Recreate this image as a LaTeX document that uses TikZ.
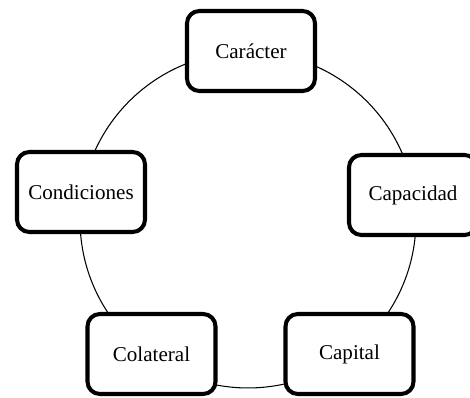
\documentclass[tikz,border=0pt]{standalone}
\usepackage{fontspec}
\setmainfont{Liberation Serif}
\begin{document}
\begin{tikzpicture}[x=0.02cm,y=-0.02cm,
  caja/.style={draw,fill=white,line width=2.3pt,rounded corners=7pt,
    minimum width=2.56cm,minimum height=1.6cm,font=\fontsize{12}{14}\selectfont}]
\useasboundingbox (0,0) rectangle (470,398);

% Circle
\node[draw,circle,line width=0.6pt,minimum size=6.72cm,inner sep=0pt] (ciclo) at (248,220) {};

% Boxes
\node[caja] (car) at (251,51) {Carácter};
\node[caja] (capa) at (413,195) {Capacidad};
\node[caja] (capi) at (349.5,354) {Capital};
\node[caja] (cola) at (151.5,354) {Colateral};
\node[caja] (cond) at (81,192) {Condiciones};
\end{tikzpicture}
\end{document}
